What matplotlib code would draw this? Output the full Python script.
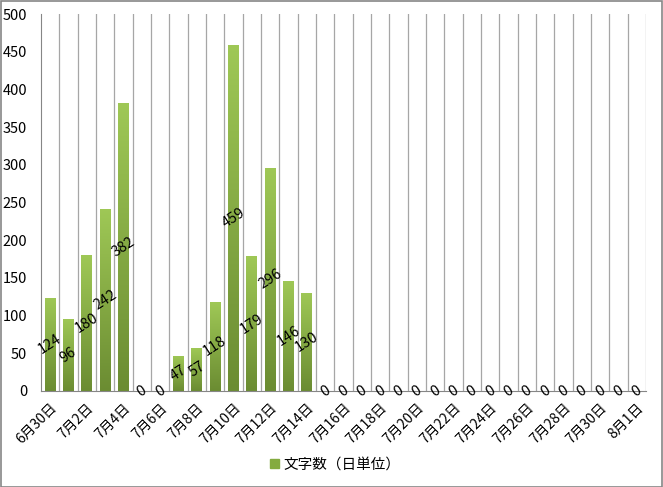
import matplotlib
matplotlib.use("Agg")
import matplotlib.pyplot as plt
import numpy as np
from matplotlib.colors import LinearSegmentedColormap
from matplotlib.patches import Rectangle

plt.rcParams['font.family'] = ['Noto Sans CJK JP', 'DejaVu Sans']

# 6月30日 から 8月1日 まで
dates = ['6月30日'] + ['7月%d日' % d for d in range(1, 32)] + ['8月1日']
counts = [124, 96, 180, 242, 382, 0, 0, 47, 57, 118, 459, 179, 296, 146, 130,
          0, 0, 0, 0, 0, 0, 0, 0, 0, 0, 0, 0, 0, 0, 0, 0, 0, 0]
series_name = '文字数（日単位）'

fig = plt.figure(figsize=(6.63, 4.87), dpi=100)
ax = fig.add_axes([41 / 663, 1 - 391 / 487, 605 / 663, 377 / 487])

x = np.arange(len(dates))
bars = ax.bar(x, counts, 0.6, color='#8db446', edgecolor='none', zorder=2,
              label=series_name)

# グラデーション
cmap = LinearSegmentedColormap.from_list('g', ['#6b8c32', '#9fc856'])
grad = np.linspace(0, 1, 256).reshape(-1, 1)
for b in bars:
    h = b.get_height()
    if h <= 0:
        continue
    b.set_facecolor('none')
    im = ax.imshow(grad, cmap=cmap, origin='lower', aspect='auto', zorder=2,
                   extent=[b.get_x(), b.get_x() + b.get_width(), 0, h])
    im.set_clip_path(b)

ax.set_xlim(-0.5, len(dates) - 0.5)
ax.set_ylim(0, 500)
ax.set_yticks(range(0, 501, 50))
ax.tick_params(axis='y', length=0, labelsize=10.5, pad=10)

# 縦の目盛線（区切り）
for xb in np.arange(0.5, len(dates) - 0.5, 1):
    ax.axvline(xb, color='#a6a6a6', lw=0.9, zorder=1)
ax.axvline(len(dates) - 0.5, color='#a6a6a6', lw=0.9, zorder=1)

ax.set_xticks(x[::2])
ax.set_xticklabels(dates[::2], rotation=45, ha='right', rotation_mode='anchor',
                   fontsize=10)
ax.tick_params(axis='x', length=0, pad=7)

for s in ['top', 'right']:
    ax.spines[s].set_visible(False)
ax.spines['left'].set_color('#868686')
ax.spines['bottom'].set_color('#868686')

# データラベル
for xi, v in zip(x, counts):
    ax.text(xi, v / 2, str(v), rotation=33, ha='center', va='center',
            fontsize=10.5, zorder=3)

leg = fig.legend(handles=[Rectangle((0, 0), 1, 1, color='#84ab40')],
                 labels=[series_name], loc='center', bbox_to_anchor=(335 / 663, 1 - 465 / 487),
                 frameon=False, fontsize=10.5, handlelength=0.6, handleheight=0.6,
                 handletextpad=0.3)

fig.patches.append(Rectangle((0.001, 0.001), 0.998, 0.997, transform=fig.transFigure,
                             fill=False, edgecolor='#868686', lw=1.2))

plt.savefig('out.png', dpi=100)
